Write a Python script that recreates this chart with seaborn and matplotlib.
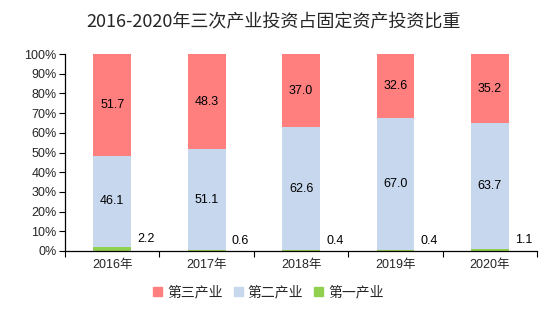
import matplotlib
matplotlib.use("Agg")
import matplotlib.pyplot as plt
import seaborn as sns
import pandas as pd
import numpy as np
from matplotlib.ticker import FixedLocator
from matplotlib.patches import Patch

years = ["2016年", "2017年", "2018年", "2019年", "2020年"]
primary = [2.2, 0.6, 0.4, 0.4, 1.1]
secondary = [46.1, 51.1, 62.6, 67.0, 63.7]
tertiary = [51.7, 48.3, 37.0, 32.6, 35.2]

c_ter = "#FF7F7F"
c_sec = "#C6D7EE"
c_pri = "#92D050"

sns.set_theme(style="white")
plt.rcParams["font.family"] = ["Liberation Sans", "Noto Sans CJK SC", "DejaVu Sans"]

df = pd.DataFrame({"year": years, "pri": primary, "sec": secondary, "ter": tertiary})
df["cum_sec"] = df["pri"] + df["sec"]
df["cum_ter"] = df["cum_sec"] + df["ter"]

fig = plt.figure(figsize=(5.42, 3.22), dpi=100)
ax = fig.add_axes([0.12, 0.2205, 0.871, 0.6115])

w = 0.4
sns.barplot(data=df, x="year", y="cum_ter", color=c_ter, width=w, ax=ax, saturation=1)
sns.barplot(data=df, x="year", y="cum_sec", color=c_sec, width=w, ax=ax, saturation=1)
sns.barplot(data=df, x="year", y="pri", color=c_pri, width=w, ax=ax, saturation=1)
for p in ax.patches:
    p.set_linewidth(0)

fs = 9
for i in range(len(years)):
    ax.text(i, df["cum_sec"][i] + df["ter"][i] / 2, f"{tertiary[i]:.1f}", ha="center", va="center", fontsize=fs, color="black")
    ax.text(i, df["pri"][i] + df["sec"][i] / 2, f"{secondary[i]:.1f}", ha="center", va="center", fontsize=fs, color="black")
    ax.text(i + 0.36, primary[i] / 2 + 5, f"{primary[i]:.1f}", ha="center", va="center", fontsize=fs, color="black")

ax.set_xlim(-0.5, len(years) - 0.5)
ax.set_ylim(0, 100)
ax.set_yticks(np.arange(0, 101, 10))
ax.set_yticklabels([f"{v}%" for v in range(0, 101, 10)], fontsize=fs)
ax.xaxis.set_minor_locator(FixedLocator(np.arange(-0.5, len(years), 1.0)))
ax.tick_params(axis="x", which="major", length=0, labelsize=fs, pad=6)
ax.tick_params(axis="x", which="minor", length=4, width=0.8, color="black", direction="out", bottom=True)
ax.tick_params(axis="y", which="major", length=4, width=0.8, color="black", direction="out", left=True, pad=2)
ax.set_xlabel("")
ax.set_ylabel("")
for s in ["top", "right"]:
    ax.spines[s].set_visible(False)
for s in ["left", "bottom"]:
    ax.spines[s].set_color("black")
    ax.spines[s].set_linewidth(0.9)

fig.suptitle("2016-2020年三次产业投资占固定资产投资比重", x=0.505, y=0.96, fontsize=13,
             family=["Noto Sans CJK SC", "DejaVu Sans"])

handles = [Patch(color=c_ter, label="第三产业"), Patch(color=c_sec, label="第二产业"), Patch(color=c_pri, label="第一产业")]
fig.legend(handles=handles, loc="center", bbox_to_anchor=(0.495, 0.093), ncol=3, frameon=False,
           handlelength=0.65, handleheight=0.65, handletextpad=0.36, columnspacing=0.8,
           prop={"family": ["Noto Sans CJK SC", "DejaVu Sans"], "size": 10})

fig.savefig("out.png", dpi=100)
